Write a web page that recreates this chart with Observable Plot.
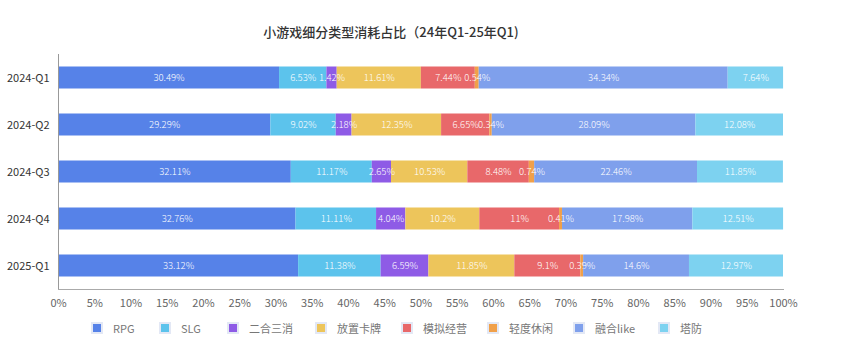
<!DOCTYPE html>
<html>
<head>
<meta charset="utf-8">
<script src="https://cdn.jsdelivr.net/npm/d3@7"></script>
<script src="https://cdn.jsdelivr.net/npm/@observablehq/plot@0.6"></script>
<style>
  html, body { margin: 0; padding: 0; background: #fff; }
  #wrap { position: relative; width: 854px; height: 362px; font-family: "Noto Sans CJK SC", "Noto Sans", sans-serif; }
  #title { position: absolute; left: 0; width: 782px; top: 23px; text-align: center; font-size: 13px; font-weight: 500; color: #333; line-height: 18px; }
  #legend { position: absolute; left: 0; top: 320px; width: 854px; height: 16px; }
  .item { position: absolute; top: 0; font-size: 11px; color: #777; line-height: 16px; white-space: nowrap; }
  .sw { position: absolute; left: 0; top: 4px; width: 8px; height: 8px; box-shadow: 0 0 0 2px rgba(200,210,235,0.5); }
  .lb { position: absolute; left: 20px; top: 0; }
  #chart { position: absolute; left: 0; top: 0; }
</style>
</head>
<body>
<div id="wrap">
  <div id="chart"></div>
  <div id="title">小游戏细分类型消耗占比（24年Q1-25年Q1)</div>
  <div id="legend"></div>
</div>
<script>
const quarters = ["2024-Q1", "2024-Q2", "2024-Q3", "2024-Q4", "2025-Q1"];
const types = ["RPG", "SLG", "二合三消", "放置卡牌", "模拟经营", "轻度休闲", "融合like", "塔防"];
const colors = ["#5682E8", "#5CC3EC", "#8E5BE6", "#EDC55B", "#E8686A", "#F0A04A", "#7FA0EC", "#7DD2F0"];
const values = {
  "2024-Q1": [30.49, 6.53, 1.42, 11.61, 7.44, 0.54, 34.34, 7.64],
  "2024-Q2": [29.29, 9.02, 2.18, 12.35, 6.65, 0.34, 28.09, 12.08],
  "2024-Q3": [32.11, 11.17, 2.65, 10.53, 8.48, 0.74, 22.46, 11.85],
  "2024-Q4": [32.76, 11.11, 4.04, 10.2, 11, 0.41, 17.98, 12.51],
  "2025-Q1": [33.12, 11.38, 6.59, 11.85, 9.1, 0.39, 14.6, 12.97]
};
const xTicks = d3.range(0, 101, 5);
const legendX = [93, 161, 229, 317, 403, 489, 575, 660];

const rows = [];
quarters.forEach(q => types.forEach((t, i) => rows.push({quarter: q, type: t, value: values[q][i]})));

const chart = Plot.plot({
  width: 854,
  height: 362,
  marginTop: 54,
  marginBottom: 73,
  marginLeft: 58,
  marginRight: 71,
  style: {fontFamily: '"Noto Sans CJK SC", "Noto Sans", sans-serif', background: "transparent"},
  x: {domain: [0, 100]},
  y: {domain: quarters, padding: 0},
  color: {domain: types, range: colors},
  marks: [
    Plot.barX(rows, Plot.stackX({x: "value", y: "quarter", fill: "type", order: types, insetTop: 12.5, insetBottom: 12.5})),
    Plot.text(rows, Plot.stackX({x: "value", y: "quarter", z: "type", order: types, text: d => d.value + "%", fill: "white", fontSize: 9.5, fontWeight: 300})),
    Plot.ruleX([0], {stroke: "#999", strokeWidth: 1}),
    Plot.frame({anchor: "bottom", stroke: "#aaa"}),
    Plot.axisX({ticks: xTicks, tickSize: 0, tickPadding: 10, tickFormat: d => d + "%", fontSize: 11, color: "#666", label: null}),
    Plot.axisY({tickSize: 0, tickPadding: 9, fontSize: 11, color: "#333", label: null})
  ]
});
document.getElementById("chart").appendChild(chart);

const legend = document.getElementById("legend");
types.forEach((t, i) => {
  const it = document.createElement("div");
  it.className = "item";
  it.style.left = legendX[i] + "px";
  it.innerHTML = `<span class="sw" style="background:${colors[i]}"></span><span class="lb">${t}</span>`;
  legend.appendChild(it);
});
</script>
</body>
</html>
